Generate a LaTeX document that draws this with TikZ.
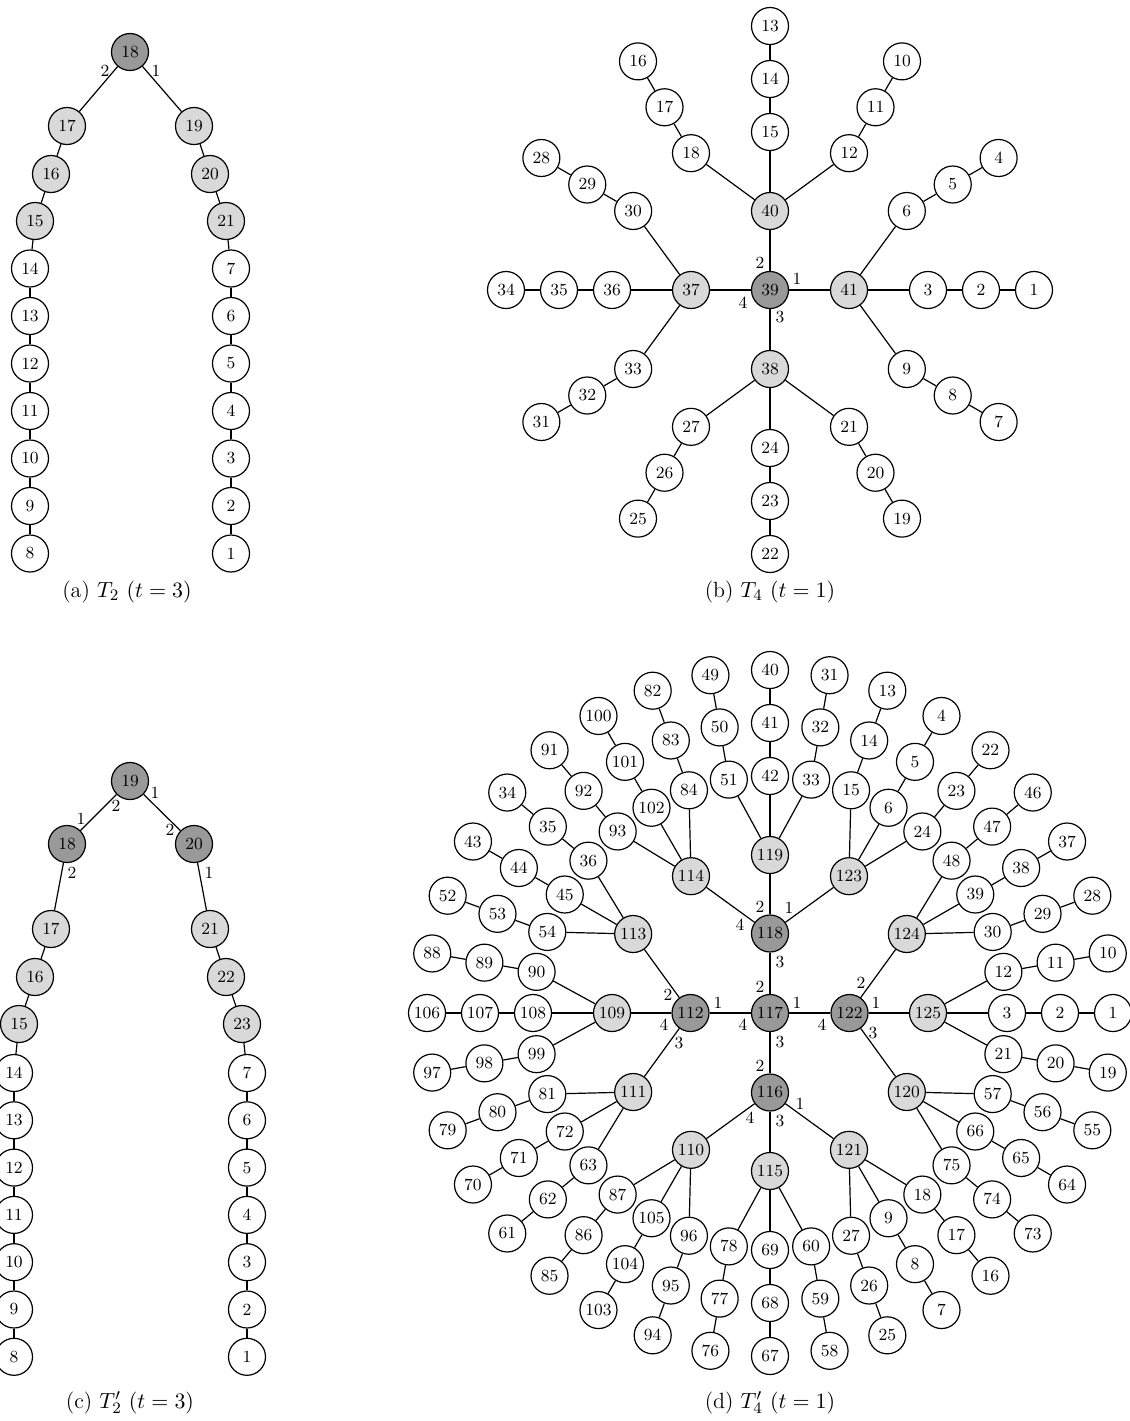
\documentclass[tikz,border=0pt]{standalone}
\usepackage{amsmath}
\usetikzlibrary{calc}

\begin{document}
\begin{tikzpicture}[x=0.5pt, y=0.5pt, line width=0.6pt,
  vtx/.style={circle, draw, fill=white, minimum size=18.5pt, inner sep=0pt,
    font=\fontsize{8.5}{10}\selectfont},
  vlight/.style={vtx, fill=black!15},
  vdark/.style={vtx, fill=black!40},
  elab/.style={inner sep=0pt, font=\fontsize{8.5}{10}\selectfont},
  subcap/.style={anchor=base, font=\fontsize{11}{13}\selectfont}]
  \useasboundingbox (0,0) rectangle (1130,-1421);

  % (a) T_2
  \node[vdark] (a18) at (130,-52) {18};
  \node[vlight] (a17) at (67,-126) {17};
  \node[vlight] (a16) at (51,-174) {16};
  \node[vlight] (a15) at (35,-221) {15};
  \node[vlight] (a19) at (194,-126) {19};
  \node[vlight] (a20) at (210,-174) {20};
  \node[vlight] (a21) at (226,-221) {21};
  \foreach \n [count=\i] in {14,13,...,8}
    \node[vtx] (a\n) at (30,{-221-47.5*\i}) {\n};
  \foreach \n [count=\i] in {7,6,...,1}
    \node[vtx] (a\n) at (231,{-221-47.5*\i}) {\n};
  \draw (a18) -- (a17) -- (a16) -- (a15) -- (a14);
  \draw (a18) -- (a19) -- (a20) -- (a21) -- (a7);
  \foreach \n [remember=\n as \prev (initially 14)] in {13,12,...,8}
    \draw (a\prev) -- (a\n);
  \foreach \n [remember=\n as \prev (initially 7)] in {6,5,...,1}
    \draw (a\prev) -- (a\n);
  \node[elab] at (105,-71) {2};
  \node[elab] at (156,-71) {1};
  \node[subcap] at (127,-597) {(a) $T_2$ $(t=3)$};

  % (c) T_2'
  \node[vdark] (c19) at (130,-781) {19};
  \node[vdark] (c18) at (67,-844) {18};
  \node[vdark] (c20) at (194,-844) {20};
  \node[vlight] (c17) at (51,-929) {17};
  \node[vlight] (c16) at (35,-977) {16};
  \node[vlight] (c15) at (19,-1024) {15};
  \node[vlight] (c21) at (210,-929) {21};
  \node[vlight] (c22) at (226,-977) {22};
  \node[vlight] (c23) at (242,-1024) {23};
  \foreach \n [count=\i] in {14,13,...,8}
    \node[vtx] (c\n) at (14,{-1025.7-47.3*\i}) {\n};
  \foreach \n [count=\i] in {7,6,...,1}
    \node[vtx] (c\n) at (247,{-1025.7-47.3*\i}) {\n};
  \draw (c19) -- (c18) -- (c17) -- (c16) -- (c15) -- (c14);
  \draw (c19) -- (c20) -- (c21) -- (c22) -- (c23) -- (c7);
  \foreach \n [remember=\n as \prev (initially 14)] in {13,12,...,8}
    \draw (c\prev) -- (c\n);
  \foreach \n [remember=\n as \prev (initially 7)] in {6,5,...,1}
    \draw (c\prev) -- (c\n);
  \node[elab] at (155,-793) {1};
  \node[elab] at (116,-806) {2};
  \node[elab] at (81,-819) {1};
  \node[elab] at (170,-830) {2};
  \node[elab] at (72,-873) {2};
  \node[elab] at (209,-873) {1};
  \node[subcap] at (130,-1408) {(c) $T_2'$ $(t=3)$};

  % (b) T_4
  \begin{scope}[shift={(770,-290)}]
    \node[vdark] (b39) at (0,0) {39};
    \foreach \ang/\s in {0/41, 90/40, 180/37, 270/38} {
      \node[vlight] (b\s) at (\ang:79) {\s};
      \draw (b39) -- (b\s);
    }
    \foreach \ang/\s/\i/\j/\k in {0/41/3/2/1, 30/41/6/5/4, 60/40/12/11/10,
        90/40/15/14/13, 120/40/18/17/16, 150/37/30/29/28, 180/37/36/35/34,
        210/37/33/32/31, 240/38/27/26/25, 270/38/24/23/22, 300/38/21/20/19,
        330/41/9/8/7} {
      \node[vtx] (b\i) at (\ang:158) {\i};
      \node[vtx] (b\j) at (\ang:211) {\j};
      \node[vtx] (b\k) at (\ang:264) {\k};
      \draw (b\s) -- (b\i) -- (b\j) -- (b\k);
    }
    \node[elab] at (27,11) {1};
    \node[elab] at (-10,27) {2};
    \node[elab] at (10,-27) {3};
    \node[elab] at (-27,-13) {4};
  \end{scope}
  \node[subcap] at (770,-597) {(b) $T_4$ $(t=1)$};

  % (d) T_4'
  \begin{scope}[shift={(770,-1013)}]
    \node[vdark] (d117) at (0,0) {117};
    \foreach \ang/\s in {0/122, 90/118, 180/112, 270/116} {
      \node[vdark] (d\s) at (\ang:79.5) {\s};
      \draw (d117) -- (d\s);
    }
    \foreach \ang/\s/\p in {0/125/122, 30/124/122, 60/123/118, 90/119/118,
        120/114/118, 150/113/112, 180/109/112, 210/111/112, 240/110/116,
        270/115/116, 300/121/116, 330/120/122} {
      \node[vlight] (d\s) at (\ang:158) {\s};
      \draw (d\p) -- (d\s);
    }
    \foreach \ang/\s/\i/\j/\k in {350/125/21/20/19, 0/125/3/2/1, 10/125/12/11/10,
        20/124/30/29/28, 30/124/39/38/37, 40/124/48/47/46,
        50/123/24/23/22, 60/123/6/5/4, 70/123/15/14/13,
        80/119/33/32/31, 90/119/42/41/40, 100/119/51/50/49,
        110/114/84/83/82, 120/114/102/101/100, 130/114/93/92/91,
        140/113/36/35/34, 150/113/45/44/43, 160/113/54/53/52,
        170/109/90/89/88, 180/109/108/107/106, 190/109/99/98/97,
        200/111/81/80/79, 210/111/72/71/70, 220/111/63/62/61,
        230/110/87/86/85, 240/110/105/104/103, 250/110/96/95/94,
        260/115/78/77/76, 270/115/69/68/67, 280/115/60/59/58,
        290/121/27/26/25, 300/121/9/8/7, 310/121/18/17/16,
        320/120/75/74/73, 330/120/66/65/64, 340/120/57/56/55} {
      \node[vtx] (d\i) at (\ang:237) {\i};
      \node[vtx] (d\j) at (\ang:290) {\j};
      \node[vtx] (d\k) at (\ang:343) {\k};
      \draw (d\s) -- (d\i) -- (d\j) -- (d\k);
    }
    % port numbers
    \node[elab] at (27,10) {1};
    \node[elab] at (-10,26) {2};
    \node[elab] at (10,-29) {3};
    \node[elab] at (-27,-12) {4};
    \node[elab] at (19,105) {1};
    \node[elab] at (-10,106) {2};
    \node[elab] at (10,51) {3};
    \node[elab] at (-30,88) {4};
    \node[elab] at (106,10) {1};
    \node[elab] at (91,30) {2};
    \node[elab] at (103,-20) {3};
    \node[elab] at (52,-12) {4};
    \node[elab] at (-52,10) {1};
    \node[elab] at (-102,18) {2};
    \node[elab] at (-91,-30) {3};
    \node[elab] at (-106,-12) {4};
    \node[elab] at (30,-91) {1};
    \node[elab] at (-10,-53) {2};
    \node[elab] at (10,-108) {3};
    \node[elab] at (-20,-105) {4};
  \end{scope}
  \node[subcap] at (770,-1408) {(d) $T_4'$ $(t=1)$};
\end{tikzpicture}
\end{document}
